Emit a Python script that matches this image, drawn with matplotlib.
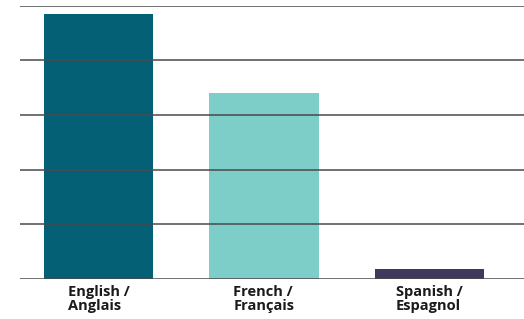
import numpy as np
import matplotlib.pyplot as plt

# data
languages = ["English /\nAnglais", "French /\nFrançais", "Spanish /\nEspagnol"]
shares = [97, 68, 3.7]
colors = ["#036075", "#7dcdc8", "#3e3a5e"]
grid_vals = [0, 20, 40, 60, 80, 100]

plt.rcParams['font.family'] = ['Open Sans', 'DejaVu Sans']

fig = plt.figure(figsize=(5.24, 3.19), dpi=100)
ax = fig.add_axes([20 / 524, 40 / 319, 504 / 524, 273.5 / 319])

x = np.arange(len(languages))
ax.bar(x, shares, width=0.66, color=colors, zorder=1)

# grid lines sit on top of the bars
for g in grid_vals:
    ax.axhline(g, color="#4a4a4a", linewidth=1.1, zorder=3)

ax.set_xlim(-0.474, 2.571)
ax.set_ylim(0, 100)
ax.set_yticks([])
ax.set_xticks(x)
ax.set_xticklabels(languages, fontsize=10.5, fontweight="bold", color="#1a1a1a",
                   multialignment="left", linespacing=1.05)
ax.tick_params(axis="x", length=0, pad=4)
for s in ax.spines.values():
    s.set_visible(False)

fig.savefig("out.png", dpi=100)
